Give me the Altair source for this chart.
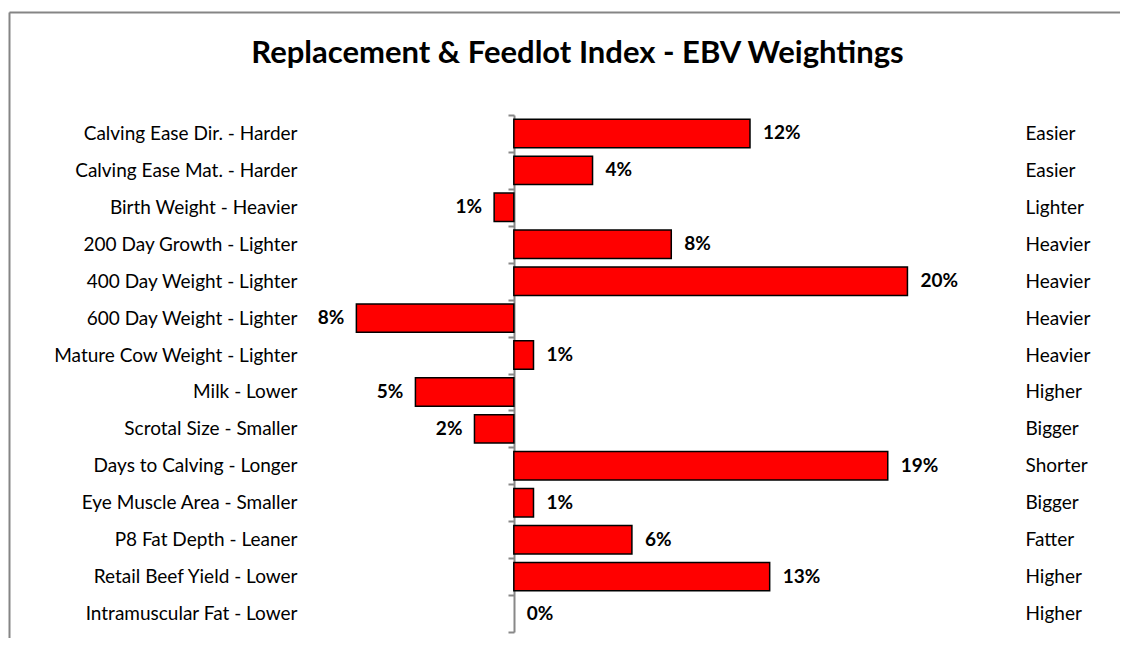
import json
import altair as alt
import pandas as pd

traits = [
    "Calving Ease Dir. - Harder",
    "Calving Ease Mat. - Harder",
    "Birth Weight - Heavier",
    "200 Day Growth - Lighter",
    "400 Day Weight - Lighter",
    "600 Day Weight - Lighter",
    "Mature Cow Weight - Lighter",
    "Milk - Lower",
    "Scrotal Size - Smaller",
    "Days to Calving - Longer",
    "Eye Muscle Area - Smaller",
    "P8 Fat Depth - Leaner",
    "Retail Beef Yield - Lower",
    "Intramuscular Fat - Lower",
]
weights = [12, 4, -1, 8, 20, -8, 1, -5, -2, 19, 1, 6, 13, 0]
right_labels = [
    "Easier", "Easier", "Lighter", "Heavier", "Heavier", "Heavier", "Heavier",
    "Higher", "Bigger", "Shorter", "Bigger", "Fatter", "Higher", "Higher",
]

df = pd.DataFrame({"trait": traits, "w": weights, "right": right_labels})

FONT = "Lato"
W, H = 1111, 626
XMIN, XMAX = -25.65, 30.8
BORDER = "#858585"
AXIS = "#888888"

def yscale():
    return alt.Scale(domain=traits, range=[103, 620], paddingInner=0, paddingOuter=0)

xscale = alt.Scale(domain=[XMIN, XMAX], nice=False, zero=False)

base = alt.Chart(df).transform_calculate(label="abs(datum.w) + '%'")

left_axis = alt.Axis(
    orient="left", title=None, offset=-505, tickBand="extent",
    tickSize=6, tickColor=AXIS, tickWidth=2,
    domainColor=AXIS, domainWidth=2,
    labelFont=FONT, labelFontSize=19, labelColor="#000000", labelPadding=211,
    labelLimit=0, grid=False,
)

right_expr = "{}[indexof({}, datum.value)]".format(json.dumps(right_labels), json.dumps(traits))
right_axis = alt.Axis(
    orient="right", title=None, offset=-95, ticks=False, domain=False,
    labelPadding=0, labelFont=FONT, labelFontSize=19, labelColor="#000000",
    labelAlign="left", labelLimit=0, labelExpr=right_expr, grid=False,
)

# chart frame: top edge from a top x axis domain, left edge from a left y axis domain
frame_top = alt.Axis(
    orient="top", title=None, labels=False, ticks=False, grid=False,
    domain=True, domainColor=BORDER, domainWidth=2, domainOpacity=1,
)
frame_left = alt.Axis(
    orient="left", title=None, labels=False, ticks=False, grid=False, offset=0,
    domain=True, domainColor=BORDER, domainWidth=2, domainOpacity=1,
)

bars = base.transform_filter("datum.w != 0").mark_bar(
    color="#ff0000", stroke="#000000", strokeWidth=1.5, height={"band": 0.77}
).encode(
    x=alt.X("w:Q", scale=xscale, axis=frame_top),
    y=alt.Y("trait:N", scale=yscale(), sort=traits, axis=left_axis),
)

frame = base.mark_point(opacity=0).encode(
    x=alt.X("w:Q", scale=xscale, axis=None),
    y=alt.Y("w:Q", axis=frame_left),
)

pos_labels = base.transform_filter("datum.w >= 0").mark_text(
    align="left", baseline="middle", dx=13, font=FONT, fontSize=19, fontWeight="bold", color="#000000"
).encode(
    x=alt.X("w:Q", scale=xscale, axis=None),
    y=alt.Y("trait:N", scale=yscale(), sort=traits, axis=right_axis),
    text="label:N",
)

neg_labels = base.transform_filter("datum.w < 0").mark_text(
    align="right", baseline="middle", dx=-12, font=FONT, fontSize=19, fontWeight="bold", color="#000000"
).encode(
    x=alt.X("w:Q", scale=xscale, axis=None),
    y=alt.Y("trait:N", scale=yscale(), sort=traits, axis=None),
    text="label:N",
)

chart = alt.layer(bars, pos_labels, neg_labels, frame).resolve_scale(
    y="independent"
).resolve_axis(
    x="independent", y="independent"
).properties(
    width=W,
    height=H,
    title=alt.Title(
        "Replacement & Feedlot Index - EBV Weightings",
        font=FONT, fontSize=31, fontWeight="bold", color="#000000",
        anchor="middle", frame="group", offset=-67, dx=13,
    ),
    autosize=alt.AutoSizeParams(type="none"),
    padding={"left": 1, "top": 4, "right": 0, "bottom": 0},
).configure_view(
    stroke=None
).configure(background="white")

chart.save("out.html", embed_options={"renderer": "svg", "actions": False})
